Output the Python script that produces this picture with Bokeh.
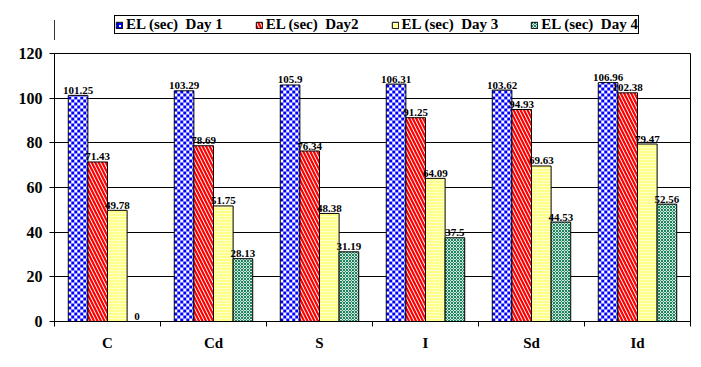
import math
from bokeh.plotting import figure
from bokeh.layouts import column
from bokeh.models import (ColumnDataSource, Range1d, FixedTicker, Legend, LegendItem)
from bokeh.embed import file_html
from bokeh.resources import INLINE

# ---------------- data ----------------
categories = ["C", "Cd", "S", "I", "Sd", "Id"]
series_names = ["EL (sec)  Day 1", "EL (sec)  Day2", "EL (sec)  Day 3", "EL (sec)  Day 4"]
day1 = [101.25, 103.29, 105.9, 106.31, 103.62, 106.96]
day2 = [71.43, 78.69, 76.34, 91.25, 94.93, 102.38]
day3 = [49.78, 51.75, 48.38, 64.09, 69.63, 79.47]
day4 = [0, 28.13, 31.19, 37.5, 44.53, 52.56]
y_ticks = [0, 20, 40, 60, 80, 100, 120]

FONT = "Liberation Serif"
LEG_H = 40
W, H = 701, 367 - LEG_H
BL, BR, BT, BB = 54, 11, 53 - LEG_H, 46
Y_MAX = 120

BLUE, RED, GREEN = "#0000ff", "#ff0000", "#1e825f"


def bar_style(k):
    base = dict(line_color="black", line_width=1)
    if k == 0:
        base.update(fill_color="white", hatch_pattern="+", hatch_color=BLUE,
                    hatch_scale=4, hatch_weight=2)
    elif k == 1:
        base.update(fill_color="white", hatch_pattern="\\", hatch_color=RED,
                    hatch_scale=7, hatch_weight=2.2)
    elif k == 2:
        base.update(fill_color="#ffff8c", hatch_pattern="-", hatch_color="#ffffc8",
                    hatch_scale=3, hatch_weight=1)
    else:
        base.update(fill_color="#d0e8dc", hatch_pattern="x", hatch_color=GREEN,
                    hatch_scale=3, hatch_weight=1)
    return base


# ---------------- main figure ----------------
p = figure(width=W, height=H,
           x_range=Range1d(-0.5, len(categories) - 0.5), y_range=Range1d(0, Y_MAX),
           output_backend="svg", toolbar_location=None,
           min_border_left=BL, min_border_right=BR, min_border_top=BT, min_border_bottom=BB)
p.background_fill_color = "white"
p.border_fill_color = "white"
p.outline_line_color = "black"
p.outline_line_width = 1

series = [day1, day2, day3, day4]
bar_w = 0.185
offsets = [(k - 1.5) * bar_w for k in range(4)]

# Day 1: white bars with a blue checkerboard pattern (3px cells) built from the bar values
cell_x = 3 * len(categories) / (W - BL - BR)
cell_y = 3 * Y_MAX / (H - BT - BB)
ql, qr, qb, qt = [], [], [], []
for i, v in enumerate(day1):
    left = i + offsets[0] - bar_w / 2
    right = left + bar_w
    ncols = math.ceil(bar_w / cell_x)
    nrows = math.ceil(v / cell_y)
    for r in range(nrows):
        for c in range(ncols):
            if (r + c) % 2 == 0:
                ql.append(left + c * cell_x)
                qr.append(min(left + (c + 1) * cell_x, right))
                qb.append(r * cell_y)
                qt.append(min((r + 1) * cell_y, v))

bar_x = [[i + offsets[k] for i in range(len(categories))] for k in range(4)]

p.vbar(x=bar_x[0], top=day1, width=bar_w, fill_color="white", line_color=None)
p.quad(left=ql, right=qr, bottom=qb, top=qt, fill_color=BLUE, line_color=None)
p.vbar(x=bar_x[0], top=day1, width=bar_w, fill_color=None, line_color="black", line_width=1)

for k in range(1, 4):
    p.vbar(x=bar_x[k], top=series[k], width=bar_w, **bar_style(k))

for k, vals in enumerate(series):
    src = ColumnDataSource(dict(x=bar_x[k], y=vals, t=[f"{v:g}" for v in vals]))
    p.text(x="x", y="y", text="t", source=src, text_align="center",
           text_baseline="alphabetic", y_offset=-5, text_font=FONT,
           text_font_style="bold", text_font_size="11px", text_color="black")

# axes
p.xaxis.ticker = FixedTicker(ticks=list(range(len(categories))),
                             minor_ticks=[i - 0.5 for i in range(len(categories) + 1)])
p.xaxis.major_label_overrides = {i: c for i, c in enumerate(categories)}
p.xaxis.major_tick_out = 0
p.xaxis.major_tick_in = 0
p.xaxis.minor_tick_out = 5
p.xaxis.minor_tick_in = 0
p.xaxis.minor_tick_line_color = "black"
p.xaxis.major_label_standoff = 8
p.xaxis.major_label_text_font = FONT
p.xaxis.major_label_text_font_style = "bold"
p.xaxis.major_label_text_font_size = "15px"
p.xaxis.major_label_text_color = "black"
p.xaxis.axis_line_color = "black"

p.yaxis.ticker = FixedTicker(ticks=y_ticks)
p.yaxis.major_tick_out = 5
p.yaxis.major_tick_in = 0
p.yaxis.minor_tick_line_color = None
p.yaxis.major_label_standoff = 7
p.yaxis.major_label_text_font = FONT
p.yaxis.major_label_text_font_style = "bold"
p.yaxis.major_label_text_font_size = "16px"
p.yaxis.major_label_text_color = "black"
p.yaxis.axis_line_color = "black"
p.yaxis.major_tick_line_color = "black"

p.xgrid.grid_line_color = None
p.ygrid.ticker = FixedTicker(ticks=y_ticks)
p.ygrid.grid_line_color = "black"
p.ygrid.grid_line_width = 1

# ---------------- legend strip ----------------
lf = figure(width=W, height=LEG_H, x_range=Range1d(0, 1), y_range=Range1d(0, 1),
            x_axis_location=None, y_axis_location=None,
            output_backend="svg", toolbar_location=None,
            min_border=0, min_border_left=0, min_border_right=0,
            min_border_top=0, min_border_bottom=0)
lf.grid.grid_line_color = None
lf.outline_line_color = None
lf.background_fill_color = "white"
lf.border_fill_color = "white"

leg_renderers = []
for k in range(4):
    leg_renderers.append(lf.vbar(x=[-5], top=[0.5], width=0.1, **bar_style(k)))

legend = Legend(items=[LegendItem(label=series_names[k], renderers=[leg_renderers[k]]) for k in range(4)],
                orientation="horizontal", location=(60, 6),
                border_line_color="black", border_line_width=1, border_line_alpha=1,
                background_fill_color="white", background_fill_alpha=1,
                padding=0, spacing=32, margin=0,
                glyph_width=8, glyph_height=8, label_standoff=3, label_height=14,
                label_text_font=FONT, label_text_font_style="bold",
                label_text_font_size="15px", label_text_color="black")
lf.add_layout(legend)

open("out.html", "w").write(file_html(column(lf, p, spacing=0), INLINE))
